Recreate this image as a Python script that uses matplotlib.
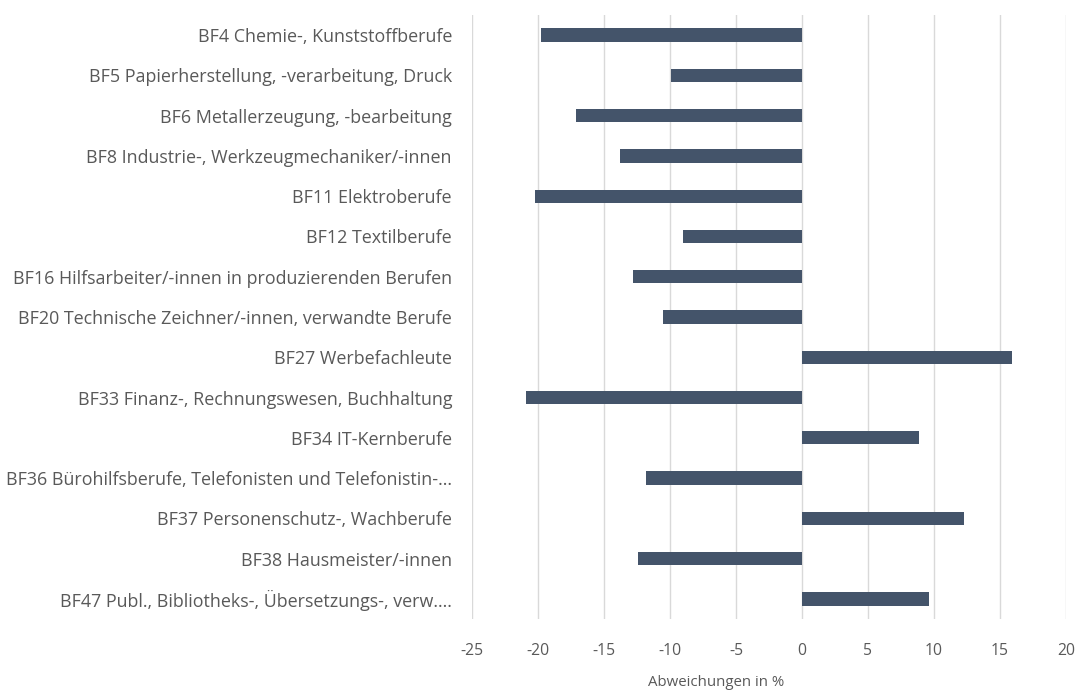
import matplotlib
matplotlib.use("Agg")
import matplotlib.pyplot as plt

categories = [
    "BF4 Chemie-, Kunststoffberufe",
    "BF5 Papierherstellung, -verarbeitung, Druck",
    "BF6 Metallerzeugung, -bearbeitung",
    "BF8 Industrie-, Werkzeugmechaniker/-innen",
    "BF11 Elektroberufe",
    "BF12 Textilberufe",
    "BF16 Hilfsarbeiter/-innen in produzierenden Berufen",
    "BF20 Technische Zeichner/-innen, verwandte Berufe",
    "BF27 Werbefachleute",
    "BF33 Finanz-, Rechnungswesen, Buchhaltung",
    "BF34 IT-Kernberufe",
    "BF36 Bürohilfsberufe, Telefonisten und Telefonistin-...",
    "BF37 Personenschutz-, Wachberufe",
    "BF38 Hausmeister/-innen",
    "BF47 Publ., Bibliotheks-, Übersetzungs-, verw....",
]
values = [-19.8, -9.9, -17.1, -13.8, -20.2, -9.0, -12.8, -10.5, 15.9, -20.9, 8.9, -11.8, 12.3, -12.4, 9.6]
xticks = [-25, -20, -15, -10, -5, 0, 5, 10, 15, 20]
xlabel = "Abweichungen in %"

plt.rcParams['font.family'] = ['Open Sans', 'DejaVu Sans']
text_color = "#595959"
bar_color = "#44546A"

W, H = 1079, 691
fig = plt.figure(figsize=(W / 100, H / 100), dpi=100)
ax = fig.add_axes([472 / W, 1 - 619 / H, (1066 - 472) / W, (619 - 15) / H])

y = list(range(len(categories)))
ax.barh(y, values, height=0.33, color=bar_color, zorder=3)
ax.set_ylim(len(categories) - 0.5, -0.5)
ax.set_xlim(-25, 20)
ax.set_xticks(xticks)
ax.set_xticklabels([str(t) for t in xticks])
ax.set_yticks(y)
ax.set_yticklabels(categories)
ax.tick_params(axis='y', length=0, pad=14.4, labelsize=12.85, labelcolor=text_color)
ax.tick_params(axis='x', length=0, pad=17.5, labelsize=11.3, labelcolor=text_color)
ax.grid(axis='x', color="#D9D9D9", linewidth=1.0, zorder=0)
for s in ax.spines.values():
    s.set_visible(False)

fig.text(716 / W, 1 - 682 / H, xlabel, ha='center', va='center', fontsize=10.8, color=text_color)

fig.savefig("out.png", dpi=100, facecolor="white")
